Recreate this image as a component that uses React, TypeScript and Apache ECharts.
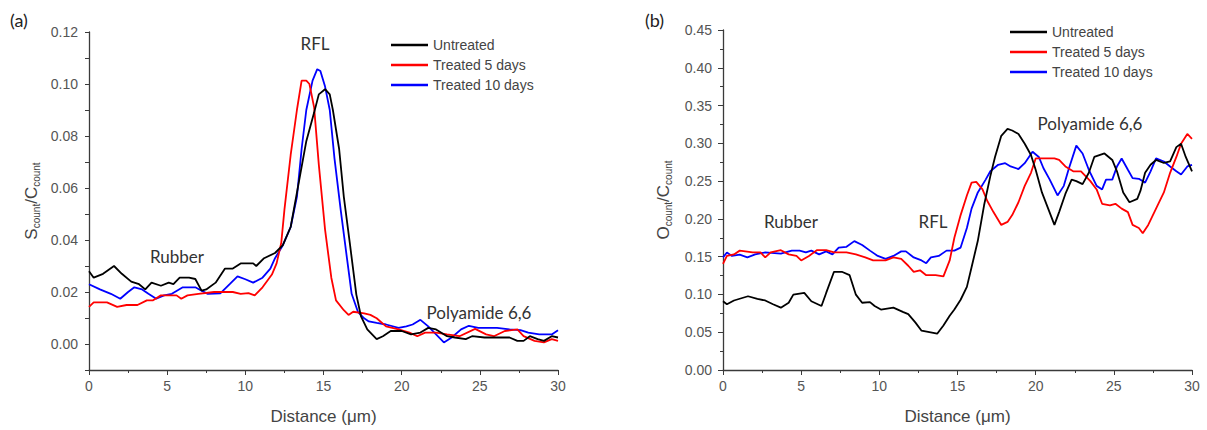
import React, { useEffect, useRef } from "react";
import * as echarts from "echarts";

const seriesNames = ["Untreated", "Treated 5 days", "Treated 10 days"];
const seriesColors = ["#000000", "#ff0000", "#0000ff"];

// Panel (a): S_count / C_count vs distance (µm)
const sUntreated: number[][] = [[0,0.028],[0.3,0.0255],[0.9,0.027],[1.6,0.030],[2.1,0.027],[2.7,0.024],[3.2,0.023],[3.6,0.021],[4.0,0.0236],[4.6,0.0224],[5.1,0.0236],[5.4,0.023],[5.8,0.0255],[6.4,0.0255],[6.8,0.025],[7.2,0.0205],[7.5,0.021],[8.1,0.0236],[8.7,0.029],[9.2,0.029],[9.7,0.031],[10.5,0.031],[10.7,0.030],[11.2,0.033],[11.9,0.035],[12.4,0.038],[12.9,0.045],[13.4,0.0615],[13.9,0.078],[14.4,0.089],[14.7,0.096],[15.1,0.098],[15.4,0.096],[15.6,0.090],[16.0,0.075],[16.3,0.0566],[16.7,0.038],[17.1,0.019],[17.4,0.0106],[17.8,0.0056],[18.4,0.0019],[18.8,0.003],[19.3,0.005],[20.0,0.005],[20.6,0.0037],[21.2,0.0044],[21.7,0.0062],[22.2,0.0056],[22.9,0.003],[23.4,0.0025],[24.1,0.0019],[24.5,0.003],[25.3,0.0025],[25.9,0.0025],[26.9,0.0025],[27.4,0.0012],[27.8,0.0012],[28.2,0.003],[28.7,0.0019],[29.1,0.0012],[29.6,0.003],[30,0.0025]];
const sTreated5: number[][] = [[0,0.0143],[0.3,0.016],[1.15,0.016],[1.8,0.0143],[2.4,0.015],[3.1,0.015],[3.7,0.0168],[4.1,0.0168],[4.6,0.0187],[5.6,0.0187],[5.9,0.0174],[6.3,0.0187],[7.0,0.0193],[8.0,0.020],[9.2,0.020],[9.7,0.0193],[10.2,0.0196],[10.6,0.0187],[11.1,0.0218],[11.7,0.0267],[12.0,0.031],[12.3,0.039],[12.5,0.0516],[12.9,0.0727],[13.3,0.090],[13.6,0.1013],[13.9,0.1013],[14.1,0.100],[14.4,0.091],[14.7,0.069],[15.1,0.044],[15.5,0.0255],[15.8,0.0168],[16.3,0.013],[16.6,0.0112],[16.9,0.0124],[17.6,0.0118],[18.0,0.0112],[18.4,0.0099],[19.0,0.0068],[19.8,0.0056],[20.5,0.0044],[21.0,0.003],[21.5,0.0044],[22.2,0.0044],[22.9,0.0037],[23.7,0.003],[24.7,0.0058],[25.4,0.0037],[25.9,0.003],[26.6,0.005],[27.4,0.0056],[27.8,0.003],[28.5,0.0012],[29.1,0.0006],[29.6,0.0019],[30,0.0012]];
const sTreated10: number[][] = [[0,0.023],[0.7,0.021],[1.4,0.0193],[2.0,0.0174],[2.5,0.020],[2.9,0.0218],[3.4,0.021],[3.8,0.0193],[4.3,0.0174],[4.8,0.0187],[5.3,0.0193],[6.0,0.0218],[6.8,0.0218],[7.2,0.0205],[7.6,0.0193],[8.4,0.0195],[9.0,0.023],[9.5,0.026],[10.0,0.0249],[10.5,0.0236],[11.1,0.0255],[11.6,0.029],[11.9,0.033],[12.4,0.038],[12.9,0.045],[13.3,0.0566],[13.6,0.075],[13.9,0.090],[14.3,0.1013],[14.6,0.1057],[14.8,0.105],[15.1,0.099],[15.4,0.090],[15.7,0.0715],[16.1,0.0516],[16.5,0.033],[16.8,0.0193],[17.2,0.0124],[17.6,0.0099],[17.9,0.0087],[18.4,0.0081],[19.0,0.0075],[19.8,0.0062],[20.3,0.0068],[20.7,0.0075],[21.2,0.0093],[21.7,0.0068],[22.2,0.0037],[22.7,0.0006],[23.2,0.0025],[23.8,0.0056],[24.3,0.007],[24.9,0.0062],[25.4,0.0062],[26.1,0.0062],[26.9,0.0056],[27.6,0.0053],[28.1,0.0044],[28.8,0.0037],[29.6,0.0037],[30,0.0053]];

// Panel (b): O_count / C_count vs distance (µm)
const oUntreated: number[][] = [[0,0.091],[0.25,0.087],[0.7,0.092],[1.6,0.0976],[2.2,0.094],[2.7,0.092],[3.2,0.087],[3.7,0.0825],[4.2,0.089],[4.5,0.0997],[5.2,0.102],[5.65,0.091],[6.3,0.0847],[6.6,0.102],[7.1,0.130],[7.6,0.130],[8.1,0.1255],[8.5,0.0997],[8.9,0.089],[9.4,0.0898],[9.7,0.0847],[10.1,0.080],[10.9,0.0825],[11.5,0.077],[11.85,0.074],[12.3,0.063],[12.7,0.052],[13.2,0.050],[13.7,0.048],[14.1,0.059],[14.5,0.0718],[14.8,0.080],[15.2,0.093],[15.6,0.110],[15.9,0.136],[16.3,0.171],[16.7,0.218],[17.1,0.2566],[17.4,0.282],[17.8,0.310],[18.2,0.319],[18.5,0.317],[18.9,0.3124],[19.3,0.2995],[19.7,0.2845],[20.0,0.265],[20.4,0.235],[20.8,0.2136],[21.2,0.192],[21.5,0.209],[21.9,0.233],[22.3,0.252],[22.6,0.250],[23.0,0.246],[23.4,0.261],[23.75,0.282],[24.4,0.2866],[24.9,0.278],[25.2,0.263],[25.6,0.235],[26.0,0.222],[26.5,0.2265],[26.7,0.237],[27.0,0.261],[27.35,0.2716],[27.7,0.278],[28.2,0.274],[28.6,0.276],[29.0,0.295],[29.3,0.2995],[29.6,0.282],[30,0.263]];
const oTreated5: number[][] = [[0,0.1405],[0.25,0.151],[0.7,0.153],[1.07,0.158],[1.9,0.1556],[2.4,0.1556],[2.7,0.149],[3.05,0.1556],[3.7,0.1586],[4.2,0.153],[4.7,0.151],[5.0,0.145],[5.5,0.151],[6.0,0.1586],[6.6,0.1586],[7.1,0.1556],[7.9,0.1556],[8.5,0.153],[9.1,0.149],[9.6,0.145],[10.4,0.145],[10.9,0.149],[11.4,0.147],[11.85,0.138],[12.2,0.130],[12.6,0.132],[13.0,0.1255],[13.6,0.1255],[14.1,0.124],[14.5,0.145],[14.8,0.175],[15.2,0.205],[15.6,0.231],[15.9,0.248],[16.2,0.249],[16.6,0.239],[16.9,0.224],[17.3,0.209],[17.8,0.192],[18.2,0.196],[18.5,0.205],[18.9,0.222],[19.3,0.2437],[19.7,0.261],[20.0,0.280],[20.5,0.280],[21.2,0.280],[21.5,0.278],[21.9,0.2694],[22.4,0.263],[22.9,0.263],[23.5,0.250],[23.9,0.239],[24.25,0.220],[24.75,0.218],[25.1,0.220],[25.5,0.2136],[25.9,0.209],[26.2,0.192],[26.6,0.188],[26.85,0.181],[27.2,0.192],[27.7,0.2136],[28.2,0.235],[28.6,0.261],[29.0,0.282],[29.3,0.2995],[29.7,0.3124],[30,0.306]];
const oTreated10: number[][] = [[0,0.149],[0.25,0.1556],[0.57,0.151],[1.07,0.1526],[1.56,0.149],[2.06,0.153],[2.7,0.1556],[3.7,0.154],[4.4,0.158],[4.9,0.158],[5.3,0.1556],[5.65,0.158],[6.15,0.153],[6.6,0.157],[7.0,0.153],[7.4,0.162],[7.9,0.163],[8.4,0.1706],[8.9,0.1655],[9.4,0.158],[9.9,0.151],[10.4,0.147],[10.9,0.151],[11.4,0.157],[11.7,0.157],[12.2,0.149],[12.7,0.145],[13.0,0.1414],[13.3,0.149],[13.8,0.151],[14.3,0.158],[14.8,0.158],[15.2,0.162],[15.6,0.188],[15.9,0.2136],[16.3,0.235],[16.8,0.252],[17.1,0.263],[17.6,0.2716],[18.05,0.2737],[18.4,0.2694],[18.9,0.266],[19.3,0.2737],[19.8,0.2888],[20.2,0.282],[20.5,0.267],[20.9,0.252],[21.4,0.231],[21.8,0.2437],[22.1,0.265],[22.6,0.297],[23.0,0.2866],[23.4,0.265],[23.9,0.2437],[24.25,0.239],[24.5,0.252],[24.9,0.252],[25.2,0.2694],[25.5,0.280],[25.9,0.265],[26.2,0.254],[26.6,0.253],[27.0,0.248],[27.35,0.263],[27.7,0.280],[28.2,0.276],[28.6,0.2694],[29.0,0.263],[29.3,0.2587],[29.7,0.2694],[30,0.2716]];

const panelLabels = ["(a)", "(b)"];
const regionLabelsA = ["Rubber", "RFL", "Polyamide 6,6"];
const regionLabelsB = ["Rubber", "RFL", "Polyamide 6,6"];

const axisColor = "#3a3a3a";
const labelColor = "#555555";
const sansFont = "'Liberation Sans', Arial, sans-serif";
const annoFont = "Lato, 'Open Sans', sans-serif";

export default function App() {
  const ref = useRef<HTMLDivElement>(null);
  useEffect(() => {
    if (!ref.current) return;
    const chart = echarts.init(ref.current, null, { renderer: "svg" });

    const mkX = (gridIndex: number) => ({
      type: "value",
      gridIndex,
      min: 0,
      max: 30,
      interval: 5,
      name: "Distance (μm)",
      nameLocation: "middle",
      nameGap: 38,
      nameTextStyle: { fontSize: 17, color: "#444", fontFamily: sansFont },
      axisLine: { show: true, onZero: false, lineStyle: { color: axisColor, width: 1.3 } },
      axisTick: { show: true, inside: false, length: 5, lineStyle: { color: axisColor } },
      minorTick: { show: true, splitNumber: 2, length: 3, lineStyle: { color: axisColor } },
      splitLine: { show: false },
      axisLabel: { fontSize: 14, color: labelColor, fontFamily: sansFont, margin: 9 },
    });

    const rich = {
      n: { fontSize: 17, color: "#444", fontFamily: sansFont },
      s: { fontSize: 10, color: "#444", fontFamily: sansFont, padding: [9, 0, 0, 0] },
    };

    const lineSeries = (data: number[][], idx: number, axisIdx: number) => ({
      type: "line",
      name: seriesNames[idx],
      data,
      xAxisIndex: axisIdx,
      yAxisIndex: axisIdx,
      showSymbol: false,
      symbol: "none",
      lineStyle: { color: seriesColors[idx], width: 1.8 },
      itemStyle: { color: seriesColors[idx] },
      z: 3 - idx,
    });

    const legendBase = {
      orient: "vertical",
      icon: "rect",
      itemWidth: 37,
      itemHeight: 2.5,
      itemGap: 6,
      textStyle: { fontSize: 14, lineHeight: 14, color: "#444", fontFamily: sansFont },
      data: seriesNames,
    };

    const annoStyle = (text: string) => ({ text, fill: "#333", font: `17px ${annoFont}` });

    chart.setOption({
      animation: false,
      backgroundColor: "#ffffff",
      grid: [
        { left: 89, top: 32, width: 469, height: 347 },
        { left: 723, top: 30, width: 469, height: 352 },
      ],
      xAxis: [mkX(0), mkX(1)],
      yAxis: [
        {
          type: "value",
          gridIndex: 0,
          min: -0.01,
          max: 0.12,
          interval: 0.01,
          name: "{n|S}{s|count}{n|/C}{s|count}",
          nameLocation: "middle",
          nameGap: 48,
          nameRotate: 90,
          nameTextStyle: { rich },
          axisLine: { show: true, lineStyle: { color: axisColor, width: 1.3 } },
          axisTick: { show: true, length: 4, lineStyle: { color: axisColor } },
          splitLine: { show: false },
          axisLabel: {
            fontSize: 14,
            color: labelColor,
            fontFamily: sansFont,
            margin: 11,
            formatter: (v: number) => {
              const k = Math.round(v * 100);
              return k >= 0 && k % 2 === 0 ? (k / 100).toFixed(2) : "";
            },
          },
        },
        {
          type: "value",
          gridIndex: 1,
          min: 0,
          max: 0.45,
          interval: 0.05,
          name: "{n|O}{s|count}{n|/C}{s|count}",
          nameLocation: "middle",
          nameGap: 50,
          nameRotate: 90,
          nameTextStyle: { rich },
          axisLine: { show: true, lineStyle: { color: axisColor, width: 1.3 } },
          axisTick: { show: true, length: 5, lineStyle: { color: axisColor } },
          minorTick: { show: true, splitNumber: 2, length: 3, lineStyle: { color: axisColor } },
          splitLine: { show: false },
          axisLabel: {
            fontSize: 14,
            color: labelColor,
            fontFamily: sansFont,
            margin: 11,
            formatter: (v: number) => v.toFixed(2),
          },
        },
      ],
      legend: [
        { ...legendBase, left: 386, top: 33 },
        { ...legendBase, left: 1005, top: 20 },
      ],
      series: [
        lineSeries(sTreated10, 2, 0),
        lineSeries(sTreated5, 1, 0),
        lineSeries(sUntreated, 0, 0),
        lineSeries(oTreated10, 2, 1),
        lineSeries(oTreated5, 1, 1),
        lineSeries(oUntreated, 0, 1),
      ],
      graphic: [
        { type: "text", left: 10, top: 11, style: { text: panelLabels[0], fill: "#222", font: `18px ${annoFont}` } },
        { type: "text", left: 645, top: 11, style: { text: panelLabels[1], fill: "#222", font: `18px ${annoFont}` } },
        { type: "text", x: 177, y: 256, style: { ...annoStyle(regionLabelsA[0]), align: "center", verticalAlign: "middle" } },
        { type: "text", x: 315, y: 43, style: { ...annoStyle(regionLabelsA[1]), align: "center", verticalAlign: "middle" } },
        { type: "text", x: 479, y: 312, style: { ...annoStyle(regionLabelsA[2]), align: "center", verticalAlign: "middle" } },
        { type: "text", x: 791, y: 221, style: { ...annoStyle(regionLabelsB[0]), align: "center", verticalAlign: "middle" } },
        { type: "text", x: 933, y: 221, style: { ...annoStyle(regionLabelsB[1]), align: "center", verticalAlign: "middle" } },
        { type: "text", x: 1090, y: 123, style: { ...annoStyle(regionLabelsB[2]), align: "center", verticalAlign: "middle" } },
      ],
    });
    return () => chart.dispose();
  }, []);
  return (
    <div
      ref={ref}
      style={{ position: "fixed", left: 0, top: 0, width: 1207, height: 430, background: "#fff" }}
    />
  );
}
